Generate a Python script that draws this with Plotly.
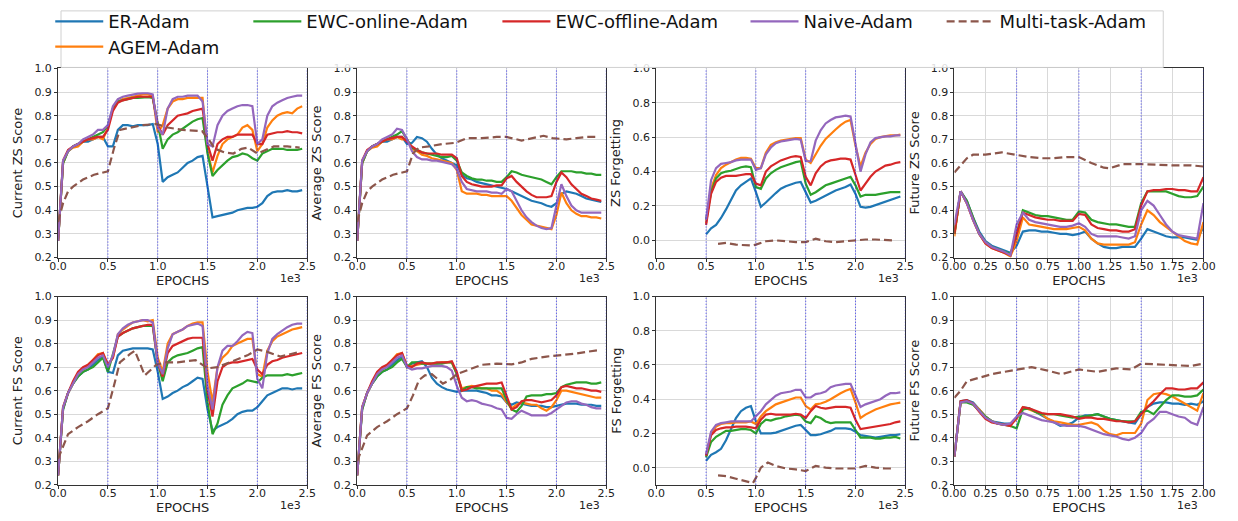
import plotly.graph_objects as go

# ---------------- data ----------------
METHODS = ["ER-Adam", "AGEM-Adam", "EWC-online-Adam", "EWC-offline-Adam", "Naive-Adam", "Multi-task-Adam"]
COLORS = ["#1f77b4", "#ff7f0e", "#2ca02c", "#d62728", "#9467bd", "#8c564b"]

EPOCHS_MAIN = [0, 50, 100, 150, 200, 250, 300, 350, 400, 450,
               500, 550, 600, 650, 700, 750, 800, 850, 900, 950,
               1000, 1050, 1100, 1150, 1200, 1250, 1300, 1350, 1400, 1450,
               1500, 1550, 1600, 1650, 1700, 1750, 1800, 1850, 1900, 1950,
               2000, 2050, 2100, 2150, 2200, 2250, 2300, 2350, 2400, 2450]
EPOCHS_FORGET = [500, 550, 600, 650, 700, 750, 800, 850, 900, 950,
                 1000, 1050, 1100, 1150, 1200, 1250, 1300, 1350, 1400, 1450,
                 1500, 1550, 1600, 1650, 1700, 1750, 1800, 1850, 1900, 1950,
                 2000, 2050, 2100, 2150, 2200, 2250, 2300, 2350, 2400, 2450]
EPOCHS_FUTURE = [0, 50, 100, 150, 200, 250, 300, 350, 400, 450,
                 500, 550, 600, 650, 700, 750, 800, 850, 900, 950,
                 1000, 1050, 1100, 1150, 1200, 1250, 1300, 1350, 1400, 1450,
                 1500, 1550, 1600, 1650, 1700, 1750, 1800, 1850, 1900, 1950,
                 2000]

# Current ZS Score
CUR_ZS_ER = [0.27, 0.60, 0.65, 0.67, 0.68, 0.69, 0.69, 0.70, 0.71, 0.71,
             0.67, 0.67, 0.74, 0.76, 0.76, 0.755, 0.76, 0.76, 0.76, 0.765,
             0.68, 0.52, 0.54, 0.55, 0.56, 0.58, 0.60, 0.61, 0.625, 0.63,
             0.50, 0.37, 0.375, 0.38, 0.385, 0.39, 0.40, 0.405, 0.41, 0.41,
             0.415, 0.43, 0.46, 0.475, 0.48, 0.48, 0.485, 0.48, 0.48, 0.485]
CUR_ZS_AGEM = [0.27, 0.60, 0.65, 0.665, 0.67, 0.69, 0.70, 0.70, 0.71, 0.70,
               0.75, 0.83, 0.86, 0.87, 0.875, 0.88, 0.885, 0.89, 0.89, 0.885,
               0.73, 0.76, 0.83, 0.86, 0.87, 0.87, 0.875, 0.875, 0.875, 0.875,
               0.65, 0.56, 0.63, 0.68, 0.70, 0.71, 0.72, 0.75, 0.76, 0.74,
               0.65, 0.68, 0.75, 0.78, 0.80, 0.81, 0.815, 0.81, 0.83, 0.84]
CUR_ZS_EWCON = [0.27, 0.60, 0.65, 0.67, 0.68, 0.69, 0.70, 0.71, 0.72, 0.73,
                0.76, 0.83, 0.86, 0.865, 0.87, 0.875, 0.875, 0.877, 0.878, 0.875,
                0.76, 0.66, 0.70, 0.72, 0.73, 0.745, 0.76, 0.775, 0.785, 0.79,
                0.64, 0.545, 0.57, 0.59, 0.61, 0.625, 0.63, 0.64, 0.635, 0.62,
                0.61, 0.64, 0.65, 0.66, 0.66, 0.66, 0.655, 0.655, 0.655, 0.66]
CUR_ZS_EWCOFF = [0.27, 0.61, 0.655, 0.67, 0.68, 0.69, 0.70, 0.705, 0.71, 0.71,
                 0.74, 0.82, 0.855, 0.865, 0.87, 0.875, 0.88, 0.88, 0.88, 0.88,
                 0.76, 0.72, 0.76, 0.78, 0.80, 0.805, 0.81, 0.82, 0.825, 0.83,
                 0.68, 0.61, 0.68, 0.70, 0.71, 0.71, 0.72, 0.72, 0.72, 0.72,
                 0.68, 0.68, 0.72, 0.725, 0.73, 0.73, 0.735, 0.73, 0.73, 0.725]
CUR_ZS_NAIVE = [0.27, 0.61, 0.65, 0.67, 0.68, 0.70, 0.71, 0.72, 0.74, 0.74,
                0.76, 0.84, 0.87, 0.88, 0.885, 0.89, 0.893, 0.895, 0.895, 0.89,
                0.75, 0.72, 0.83, 0.87, 0.88, 0.88, 0.885, 0.885, 0.885, 0.86,
                0.68, 0.67, 0.76, 0.80, 0.82, 0.83, 0.84, 0.845, 0.845, 0.84,
                0.68, 0.70, 0.80, 0.84, 0.855, 0.865, 0.875, 0.88, 0.885, 0.885]
CUR_ZS_MT_X = [0, 50, 100, 150, 250, 360, 500, 560, 620, 720, 850, 985, 1100, 1250,
               1445, 1510, 1575, 1670, 1760, 1840, 1910, 2000, 2060, 2165, 2300, 2425]
CUR_ZS_MT = [0.35, 0.43, 0.48, 0.50, 0.53, 0.55, 0.565, 0.66, 0.74, 0.75, 0.76, 0.765, 0.75, 0.74,
             0.735, 0.70, 0.66, 0.645, 0.64, 0.66, 0.665, 0.64, 0.65, 0.67, 0.67, 0.665]

# Average ZS Score
AVG_ZS_ER = [0.27, 0.60, 0.65, 0.67, 0.68, 0.69, 0.69, 0.70, 0.71, 0.71,
             0.68, 0.685, 0.71, 0.705, 0.69, 0.66, 0.635, 0.62, 0.61, 0.60,
             0.59, 0.55, 0.535, 0.53, 0.52, 0.515, 0.51, 0.505, 0.50, 0.495,
             0.49, 0.48, 0.47, 0.46, 0.45, 0.44, 0.435, 0.43, 0.42, 0.415,
             0.43, 0.47, 0.48, 0.475, 0.47, 0.46, 0.45, 0.445, 0.44, 0.435]
AVG_ZS_AGEM = [0.27, 0.60, 0.65, 0.665, 0.67, 0.69, 0.70, 0.70, 0.71, 0.70,
               0.70, 0.66, 0.65, 0.635, 0.63, 0.62, 0.615, 0.61, 0.605, 0.60,
               0.57, 0.48, 0.47, 0.47, 0.47, 0.465, 0.465, 0.46, 0.46, 0.46,
               0.46, 0.44, 0.41, 0.38, 0.36, 0.34, 0.335, 0.33, 0.325, 0.32,
               0.38, 0.475, 0.43, 0.40, 0.385, 0.375, 0.375, 0.37, 0.37, 0.365]
AVG_ZS_EWCON = [0.27, 0.60, 0.65, 0.67, 0.68, 0.69, 0.70, 0.71, 0.72, 0.735,
                0.70, 0.665, 0.655, 0.645, 0.64, 0.635, 0.63, 0.625, 0.625, 0.63,
                0.61, 0.56, 0.545, 0.535, 0.53, 0.53, 0.525, 0.525, 0.52, 0.52,
                0.54, 0.565, 0.56, 0.55, 0.545, 0.54, 0.535, 0.53, 0.52, 0.51,
                0.54, 0.565, 0.565, 0.565, 0.56, 0.56, 0.555, 0.555, 0.55, 0.55]
AVG_ZS_EWCOFF = [0.27, 0.61, 0.655, 0.67, 0.68, 0.69, 0.70, 0.705, 0.71, 0.71,
                 0.69, 0.67, 0.655, 0.645, 0.64, 0.64, 0.64, 0.635, 0.635, 0.635,
                 0.62, 0.545, 0.52, 0.51, 0.505, 0.50, 0.50, 0.50, 0.505, 0.505,
                 0.535, 0.545, 0.52, 0.50, 0.48, 0.465, 0.455, 0.455, 0.455, 0.46,
                 0.52, 0.56, 0.54, 0.51, 0.49, 0.47, 0.46, 0.45, 0.445, 0.44]
AVG_ZS_NAIVE = [0.27, 0.61, 0.65, 0.67, 0.68, 0.70, 0.71, 0.72, 0.745, 0.74,
                0.70, 0.65, 0.625, 0.615, 0.615, 0.61, 0.61, 0.605, 0.60, 0.595,
                0.575, 0.52, 0.49, 0.485, 0.48, 0.48, 0.48, 0.475, 0.475, 0.47,
                0.49, 0.48, 0.44, 0.40, 0.37, 0.35, 0.335, 0.325, 0.32, 0.325,
                0.42, 0.51, 0.46, 0.42, 0.40, 0.39, 0.39, 0.39, 0.39, 0.39]
AVG_ZS_MT_X = [0, 50, 100, 150, 250, 360, 500, 560, 620, 720, 850, 985, 1100, 1250,
               1400, 1500, 1650, 1750, 1870, 1960, 2100, 2200, 2300, 2425]
AVG_ZS_MT = [0.35, 0.43, 0.48, 0.50, 0.53, 0.55, 0.565, 0.64, 0.665, 0.67, 0.68, 0.685, 0.705, 0.705,
             0.71, 0.71, 0.695, 0.705, 0.715, 0.705, 0.70, 0.705, 0.71, 0.71]

# ZS Forgetting
FGT_ZS_ER = [0.035, 0.07, 0.09, 0.13, 0.18, 0.24, 0.29, 0.32, 0.34, 0.36,
             0.28, 0.195, 0.22, 0.25, 0.275, 0.30, 0.315, 0.325, 0.335, 0.34,
             0.28, 0.22, 0.23, 0.245, 0.26, 0.275, 0.29, 0.30, 0.31, 0.325,
             0.27, 0.195, 0.19, 0.195, 0.205, 0.215, 0.225, 0.235, 0.245, 0.255]
FGT_ZS_AGEM = [0.10, 0.30, 0.38, 0.42, 0.44, 0.455, 0.47, 0.48, 0.48, 0.475,
               0.42, 0.42, 0.51, 0.555, 0.57, 0.58, 0.585, 0.59, 0.595, 0.595,
               0.47, 0.45, 0.50, 0.55, 0.59, 0.62, 0.645, 0.67, 0.69, 0.70,
               0.55, 0.43, 0.51, 0.56, 0.59, 0.60, 0.605, 0.61, 0.61, 0.615]
FGT_ZS_EWCON = [0.12, 0.28, 0.36, 0.39, 0.40, 0.405, 0.415, 0.425, 0.43, 0.425,
                0.31, 0.30, 0.36, 0.39, 0.41, 0.425, 0.435, 0.445, 0.455, 0.46,
                0.33, 0.265, 0.28, 0.30, 0.32, 0.33, 0.34, 0.35, 0.36, 0.37,
                0.32, 0.255, 0.265, 0.265, 0.265, 0.27, 0.275, 0.28, 0.28, 0.28]
FGT_ZS_EWCOFF = [0.09, 0.27, 0.34, 0.365, 0.375, 0.375, 0.375, 0.38, 0.385, 0.385,
                 0.33, 0.32, 0.40, 0.43, 0.45, 0.465, 0.475, 0.485, 0.49, 0.485,
                 0.37, 0.32, 0.39, 0.43, 0.455, 0.465, 0.47, 0.475, 0.475, 0.47,
                 0.38, 0.29, 0.33, 0.37, 0.40, 0.42, 0.435, 0.44, 0.45, 0.455]
FGT_ZS_NAIVE = [0.12, 0.35, 0.42, 0.445, 0.45, 0.455, 0.465, 0.47, 0.47, 0.47,
                0.41, 0.42, 0.50, 0.54, 0.565, 0.575, 0.58, 0.585, 0.59, 0.585,
                0.46, 0.46, 0.58, 0.64, 0.68, 0.70, 0.715, 0.72, 0.725, 0.72,
                0.56, 0.40, 0.50, 0.57, 0.595, 0.60, 0.605, 0.605, 0.61, 0.61]
FGT_ZS_MT_X = [620, 700, 800, 900, 960, 1000, 1100, 1200, 1300, 1400, 1500, 1600, 1700,
               1800, 1900, 2000, 2100, 2200, 2370]
FGT_ZS_MT = [-0.02, -0.015, -0.025, -0.03, -0.03, -0.025, -0.005, 0.0, -0.005, -0.01, -0.01, 0.01, -0.005,
             -0.01, -0.005, 0.0, 0.005, 0.005, 0.0]

# Future ZS Score
FUT_ZS_ER = [0.30, 0.48, 0.44, 0.37, 0.31, 0.27, 0.25, 0.24, 0.23, 0.22,
             0.25, 0.31, 0.315, 0.315, 0.31, 0.31, 0.305, 0.30, 0.30, 0.295,
             0.30, 0.31, 0.28, 0.26, 0.245, 0.24, 0.24, 0.245, 0.245, 0.245,
             0.28, 0.32, 0.31, 0.30, 0.29, 0.285, 0.285, 0.285, 0.28, 0.275,
             0.33]
FUT_ZS_AGEM = [0.29, 0.48, 0.43, 0.36, 0.30, 0.26, 0.24, 0.23, 0.22, 0.205,
               0.27, 0.37, 0.34, 0.335, 0.33, 0.325, 0.32, 0.32, 0.32, 0.325,
               0.33, 0.315, 0.28, 0.26, 0.255, 0.255, 0.255, 0.255, 0.255, 0.265,
               0.34, 0.40, 0.38, 0.35, 0.33, 0.31, 0.29, 0.27, 0.26, 0.255,
               0.35]
FUT_ZS_EWCON = [0.30, 0.48, 0.44, 0.37, 0.30, 0.265, 0.245, 0.235, 0.225, 0.215,
                0.30, 0.40, 0.39, 0.38, 0.375, 0.375, 0.37, 0.365, 0.36, 0.36,
                0.395, 0.39, 0.36, 0.35, 0.345, 0.34, 0.34, 0.335, 0.33, 0.33,
                0.43, 0.48, 0.48, 0.48, 0.48, 0.47, 0.46, 0.455, 0.455, 0.46,
                0.50]
FUT_ZS_EWCOFF = [0.30, 0.48, 0.43, 0.36, 0.30, 0.26, 0.24, 0.23, 0.22, 0.21,
                 0.30, 0.39, 0.38, 0.37, 0.365, 0.36, 0.36, 0.355, 0.355, 0.355,
                 0.385, 0.38, 0.34, 0.325, 0.32, 0.315, 0.315, 0.31, 0.31, 0.32,
                 0.42, 0.48, 0.485, 0.485, 0.49, 0.49, 0.485, 0.485, 0.48, 0.48,
                 0.54]
FUT_ZS_NAIVE = [0.34, 0.48, 0.43, 0.36, 0.30, 0.265, 0.245, 0.235, 0.225, 0.21,
                0.34, 0.39, 0.36, 0.35, 0.345, 0.34, 0.335, 0.33, 0.33, 0.335,
                0.345, 0.33, 0.30, 0.29, 0.29, 0.29, 0.29, 0.285, 0.28, 0.29,
                0.40, 0.44, 0.42, 0.38, 0.34, 0.31, 0.295, 0.29, 0.285, 0.28,
                0.43]
FUT_ZS_MT_X = [0, 50, 100, 150, 250, 380, 500, 600, 700, 800, 900, 1000, 1100, 1200,
               1250, 1350, 1500, 1600, 1750, 1900, 2000]
FUT_ZS_MT = [0.56, 0.59, 0.62, 0.635, 0.635, 0.645, 0.635, 0.625, 0.62, 0.62, 0.625, 0.625, 0.60, 0.58,
             0.578, 0.595, 0.595, 0.592, 0.59, 0.59, 0.585]

# Current FS Score
CUR_FS_ER = [0.24, 0.52, 0.59, 0.63, 0.66, 0.68, 0.69, 0.71, 0.73, 0.745,
             0.68, 0.675, 0.75, 0.77, 0.775, 0.78, 0.78, 0.78, 0.78, 0.775,
             0.68, 0.565, 0.575, 0.59, 0.60, 0.615, 0.625, 0.64, 0.655, 0.65,
             0.52, 0.43, 0.445, 0.455, 0.465, 0.48, 0.50, 0.51, 0.515, 0.515,
             0.53, 0.555, 0.58, 0.59, 0.60, 0.61, 0.61, 0.605, 0.61, 0.61]
CUR_FS_AGEM = [0.24, 0.53, 0.59, 0.63, 0.67, 0.69, 0.71, 0.73, 0.755, 0.76,
               0.71, 0.74, 0.84, 0.86, 0.875, 0.89, 0.895, 0.90, 0.895, 0.90,
               0.74, 0.68, 0.80, 0.84, 0.85, 0.86, 0.875, 0.885, 0.89, 0.89,
               0.68, 0.55, 0.70, 0.74, 0.76, 0.79, 0.80, 0.81, 0.82, 0.82,
               0.67, 0.66, 0.77, 0.81, 0.83, 0.84, 0.85, 0.86, 0.865, 0.87]
CUR_FS_EWCON = [0.24, 0.52, 0.59, 0.63, 0.66, 0.68, 0.69, 0.70, 0.72, 0.74,
                0.68, 0.75, 0.83, 0.845, 0.855, 0.865, 0.87, 0.875, 0.875, 0.875,
                0.72, 0.64, 0.72, 0.74, 0.75, 0.755, 0.76, 0.77, 0.78, 0.785,
                0.55, 0.415, 0.46, 0.54, 0.58, 0.61, 0.62, 0.63, 0.645, 0.64,
                0.635, 0.655, 0.665, 0.665, 0.665, 0.665, 0.67, 0.665, 0.67, 0.675]
CUR_FS_EWCOFF = [0.24, 0.53, 0.59, 0.64, 0.68, 0.70, 0.71, 0.73, 0.75, 0.76,
                 0.71, 0.74, 0.83, 0.845, 0.855, 0.865, 0.87, 0.875, 0.88, 0.88,
                 0.72, 0.66, 0.76, 0.79, 0.80, 0.81, 0.82, 0.825, 0.825, 0.825,
                 0.60, 0.49, 0.64, 0.70, 0.715, 0.72, 0.72, 0.725, 0.73, 0.735,
                 0.69, 0.67, 0.71, 0.725, 0.73, 0.74, 0.745, 0.75, 0.755, 0.76]
CUR_FS_NAIVE = [0.24, 0.53, 0.59, 0.63, 0.67, 0.69, 0.70, 0.72, 0.74, 0.75,
                0.70, 0.75, 0.84, 0.865, 0.88, 0.89, 0.895, 0.90, 0.90, 0.89,
                0.72, 0.67, 0.78, 0.84, 0.85, 0.86, 0.875, 0.88, 0.885, 0.875,
                0.62, 0.52, 0.70, 0.77, 0.79, 0.79, 0.81, 0.835, 0.85, 0.845,
                0.65, 0.61, 0.76, 0.82, 0.84, 0.855, 0.87, 0.88, 0.885, 0.885]
CUR_FS_MT_X = [0, 100, 200, 300, 400, 500, 560, 620, 720, 770, 870, 985, 1080, 1200,
               1380, 1500, 1600, 1770, 1900, 2000, 2100, 2230, 2430]
CUR_FS_MT = [0.31, 0.415, 0.445, 0.47, 0.50, 0.525, 0.62, 0.72, 0.755, 0.77, 0.665, 0.71, 0.72, 0.72,
             0.73, 0.695, 0.70, 0.73, 0.75, 0.775, 0.765, 0.745, 0.765]

# Average FS Score
AVG_FS_ER = [0.24, 0.52, 0.59, 0.63, 0.66, 0.68, 0.69, 0.71, 0.73, 0.745,
             0.70, 0.715, 0.72, 0.725, 0.70, 0.655, 0.63, 0.615, 0.605, 0.60,
             0.595, 0.60, 0.60, 0.60, 0.60, 0.595, 0.59, 0.58, 0.58, 0.575,
             0.55, 0.54, 0.55, 0.545, 0.54, 0.535, 0.535, 0.535, 0.53, 0.53,
             0.535, 0.54, 0.545, 0.545, 0.545, 0.54, 0.54, 0.54, 0.535, 0.535]
AVG_FS_AGEM = [0.24, 0.53, 0.59, 0.63, 0.67, 0.69, 0.71, 0.73, 0.755, 0.76,
               0.70, 0.705, 0.71, 0.715, 0.715, 0.715, 0.715, 0.72, 0.72, 0.72,
               0.67, 0.61, 0.615, 0.62, 0.615, 0.61, 0.61, 0.60, 0.60, 0.585,
               0.55, 0.525, 0.54, 0.55, 0.545, 0.54, 0.54, 0.525, 0.515, 0.53,
               0.56, 0.60, 0.60, 0.595, 0.59, 0.585, 0.58, 0.575, 0.57, 0.57]
AVG_FS_EWCON = [0.24, 0.52, 0.59, 0.63, 0.66, 0.68, 0.69, 0.70, 0.72, 0.735,
                0.70, 0.72, 0.72, 0.715, 0.715, 0.715, 0.715, 0.715, 0.72, 0.72,
                0.67, 0.60, 0.615, 0.615, 0.61, 0.61, 0.61, 0.61, 0.61, 0.61,
                0.56, 0.52, 0.51, 0.535, 0.575, 0.58, 0.58, 0.58, 0.585, 0.585,
                0.59, 0.615, 0.625, 0.63, 0.635, 0.635, 0.635, 0.63, 0.63, 0.635]
AVG_FS_EWCOFF = [0.24, 0.53, 0.59, 0.64, 0.68, 0.70, 0.71, 0.73, 0.75, 0.76,
                 0.705, 0.70, 0.715, 0.72, 0.715, 0.715, 0.72, 0.72, 0.72, 0.725,
                 0.68, 0.60, 0.605, 0.615, 0.62, 0.625, 0.63, 0.63, 0.63, 0.635,
                 0.58, 0.52, 0.53, 0.555, 0.56, 0.56, 0.555, 0.55, 0.555, 0.56,
                 0.58, 0.615, 0.62, 0.615, 0.61, 0.61, 0.605, 0.60, 0.60, 0.595]
AVG_FS_NAIVE = [0.24, 0.53, 0.59, 0.63, 0.67, 0.69, 0.70, 0.72, 0.74, 0.75,
                0.70, 0.69, 0.695, 0.695, 0.70, 0.705, 0.705, 0.705, 0.70, 0.685,
                0.62, 0.57, 0.555, 0.56, 0.555, 0.545, 0.54, 0.535, 0.525, 0.52,
                0.485, 0.48, 0.50, 0.515, 0.505, 0.495, 0.495, 0.495, 0.495, 0.505,
                0.52, 0.535, 0.55, 0.555, 0.555, 0.545, 0.54, 0.53, 0.525, 0.525]
AVG_FS_MT_X = [0, 100, 200, 300, 400, 500, 560, 620, 680, 750, 860, 930, 1000, 1100,
               1250, 1400, 1550, 1650, 1750, 1900, 2050, 2200, 2300, 2425]
AVG_FS_MT = [0.30, 0.41, 0.445, 0.47, 0.50, 0.525, 0.58, 0.645, 0.665, 0.67, 0.63, 0.645, 0.67, 0.685,
             0.71, 0.715, 0.712, 0.72, 0.735, 0.745, 0.75, 0.758, 0.765, 0.772]

# FS Forgetting
FGT_FS_ER = [0.04, 0.075, 0.09, 0.11, 0.16, 0.23, 0.29, 0.33, 0.35, 0.36,
             0.27, 0.20, 0.20, 0.20, 0.205, 0.215, 0.225, 0.235, 0.245, 0.25,
             0.22, 0.19, 0.19, 0.195, 0.205, 0.215, 0.23, 0.23, 0.23, 0.225,
             0.21, 0.19, 0.185, 0.18, 0.175, 0.18, 0.185, 0.19, 0.19, 0.195]
FGT_FS_AGEM = [0.07, 0.20, 0.24, 0.255, 0.26, 0.26, 0.265, 0.265, 0.265, 0.27,
               0.255, 0.30, 0.33, 0.35, 0.37, 0.38, 0.39, 0.40, 0.41, 0.41,
               0.36, 0.34, 0.37, 0.375, 0.385, 0.40, 0.42, 0.435, 0.45, 0.46,
               0.38, 0.29, 0.31, 0.325, 0.34, 0.35, 0.36, 0.37, 0.375, 0.38]
FGT_FS_EWCON = [0.06, 0.15, 0.18, 0.20, 0.215, 0.215, 0.22, 0.225, 0.225, 0.22,
                0.20, 0.255, 0.28, 0.275, 0.285, 0.29, 0.30, 0.305, 0.31, 0.305,
                0.27, 0.26, 0.30, 0.29, 0.27, 0.26, 0.265, 0.265, 0.265, 0.265,
                0.22, 0.175, 0.175, 0.175, 0.17, 0.17, 0.175, 0.175, 0.18, 0.17]
FGT_FS_EWCOFF = [0.07, 0.19, 0.22, 0.23, 0.235, 0.235, 0.24, 0.24, 0.24, 0.235,
                 0.23, 0.28, 0.31, 0.315, 0.31, 0.31, 0.31, 0.31, 0.315, 0.31,
                 0.29, 0.33, 0.36, 0.35, 0.345, 0.35, 0.355, 0.355, 0.355, 0.35,
                 0.28, 0.225, 0.23, 0.235, 0.24, 0.245, 0.25, 0.255, 0.265, 0.27]
FGT_FS_NAIVE = [0.08, 0.21, 0.25, 0.26, 0.265, 0.27, 0.27, 0.27, 0.27, 0.27,
                0.30, 0.33, 0.37, 0.395, 0.42, 0.435, 0.44, 0.445, 0.455, 0.455,
                0.41, 0.41, 0.43, 0.435, 0.445, 0.47, 0.48, 0.485, 0.49, 0.49,
                0.42, 0.355, 0.37, 0.38, 0.39, 0.40, 0.42, 0.435, 0.435, 0.44]
FGT_FS_MT_X = [620, 700, 800, 900, 970, 1000, 1050, 1120, 1200, 1300, 1400, 1500, 1600, 1700,
               1800, 1900, 2000, 2100, 2200, 2300, 2370]
FGT_FS_MT = [-0.045, -0.05, -0.065, -0.08, -0.09, -0.06, 0.0, 0.03, 0.01, -0.005, -0.01, -0.02, 0.01, 0.0,
             -0.005, -0.005, -0.005, 0.01, 0.0, -0.005, -0.005]

# Future FS Score
FUT_FS_ER = [0.32, 0.555, 0.56, 0.55, 0.52, 0.49, 0.47, 0.465, 0.46, 0.46,
             0.48, 0.53, 0.525, 0.51, 0.495, 0.48, 0.465, 0.45, 0.455, 0.465,
             0.485, 0.495, 0.495, 0.50, 0.49, 0.48, 0.475, 0.47, 0.465, 0.46,
             0.50, 0.53, 0.545, 0.55, 0.55, 0.545, 0.545, 0.54, 0.545, 0.54,
             0.555]
FUT_FS_AGEM = [0.32, 0.55, 0.555, 0.545, 0.52, 0.49, 0.47, 0.46, 0.455, 0.455,
               0.48, 0.53, 0.52, 0.51, 0.50, 0.48, 0.47, 0.465, 0.46, 0.455,
               0.455, 0.46, 0.465, 0.455, 0.43, 0.415, 0.41, 0.42, 0.42, 0.42,
               0.46, 0.56, 0.585, 0.59, 0.585, 0.575, 0.56, 0.545, 0.53, 0.515,
               0.59]
FUT_FS_EWCON = [0.32, 0.55, 0.55, 0.54, 0.515, 0.49, 0.47, 0.46, 0.455, 0.45,
                0.44, 0.52, 0.525, 0.51, 0.50, 0.50, 0.50, 0.495, 0.49, 0.485,
                0.49, 0.49, 0.495, 0.50, 0.49, 0.48, 0.475, 0.47, 0.47, 0.47,
                0.51, 0.515, 0.50, 0.53, 0.56, 0.58, 0.58, 0.575, 0.575, 0.58,
                0.605]
FUT_FS_EWCOFF = [0.32, 0.555, 0.56, 0.545, 0.51, 0.48, 0.465, 0.46, 0.455, 0.45,
                 0.485, 0.53, 0.525, 0.515, 0.505, 0.50, 0.50, 0.50, 0.495, 0.49,
                 0.48, 0.485, 0.485, 0.48, 0.48, 0.475, 0.47, 0.47, 0.465, 0.47,
                 0.50, 0.53, 0.555, 0.585, 0.61, 0.61, 0.605, 0.605, 0.61, 0.61,
                 0.635]
FUT_FS_NAIVE = [0.32, 0.55, 0.555, 0.545, 0.515, 0.485, 0.47, 0.46, 0.455, 0.46,
                0.49, 0.505, 0.495, 0.485, 0.475, 0.47, 0.465, 0.455, 0.45, 0.45,
                0.45, 0.445, 0.435, 0.425, 0.415, 0.41, 0.405, 0.395, 0.39, 0.40,
                0.42, 0.46, 0.48, 0.51, 0.51, 0.50, 0.49, 0.485, 0.465, 0.455,
                0.53]
FUT_FS_MT_X = [0, 50, 100, 200, 300, 400, 500, 620, 750, 860, 1000, 1150, 1300, 1420,
               1500, 1600, 1750, 1900, 2000]
FUT_FS_MT = [0.57, 0.60, 0.64, 0.655, 0.67, 0.68, 0.69, 0.70, 0.685, 0.67, 0.69, 0.68, 0.695, 0.69,
             0.715, 0.712, 0.71, 0.705, 0.715]

Y_TITLES = ["Current ZS Score", "Average ZS Score", "ZS Forgetting", "Future ZS Score",
            "Current FS Score", "Average FS Score", "FS Forgetting", "Future FS Score"]
TASK_BOUNDARIES_LONG = [500, 1000, 1500, 2000, 2500]
TASK_BOUNDARIES_SHORT = [500, 1000, 1500, 2000]
X_TICKS_LONG = [0, 500, 1000, 1500, 2000, 2500]
X_TICKTEXT_LONG = ["0.0", "0.5", "1.0", "1.5", "2.0", "2.5"]
X_TICKS_SHORT = [0, 250, 500, 750, 1000, 1250, 1500, 1750, 2000]
X_TICKTEXT_SHORT = ["0.00", "0.25", "0.50", "0.75", "1.00", "1.25", "1.50", "1.75", "2.00"]
Y_TICKS_SCORE = [0.2, 0.3, 0.4, 0.5, 0.6, 0.7, 0.8, 0.9, 1.0]
Y_TICKS_FGT = [0.0, 0.2, 0.4, 0.6, 0.8, 1.0]

PANELS = [
    (EPOCHS_MAIN, [CUR_ZS_ER, CUR_ZS_AGEM, CUR_ZS_EWCON, CUR_ZS_EWCOFF, CUR_ZS_NAIVE], CUR_ZS_MT_X, CUR_ZS_MT),
    (EPOCHS_MAIN, [AVG_ZS_ER, AVG_ZS_AGEM, AVG_ZS_EWCON, AVG_ZS_EWCOFF, AVG_ZS_NAIVE], AVG_ZS_MT_X, AVG_ZS_MT),
    (EPOCHS_FORGET, [FGT_ZS_ER, FGT_ZS_AGEM, FGT_ZS_EWCON, FGT_ZS_EWCOFF, FGT_ZS_NAIVE], FGT_ZS_MT_X, FGT_ZS_MT),
    (EPOCHS_FUTURE, [FUT_ZS_ER, FUT_ZS_AGEM, FUT_ZS_EWCON, FUT_ZS_EWCOFF, FUT_ZS_NAIVE], FUT_ZS_MT_X, FUT_ZS_MT),
    (EPOCHS_MAIN, [CUR_FS_ER, CUR_FS_AGEM, CUR_FS_EWCON, CUR_FS_EWCOFF, CUR_FS_NAIVE], CUR_FS_MT_X, CUR_FS_MT),
    (EPOCHS_MAIN, [AVG_FS_ER, AVG_FS_AGEM, AVG_FS_EWCON, AVG_FS_EWCOFF, AVG_FS_NAIVE], AVG_FS_MT_X, AVG_FS_MT),
    (EPOCHS_FORGET, [FGT_FS_ER, FGT_FS_AGEM, FGT_FS_EWCON, FGT_FS_EWCOFF, FGT_FS_NAIVE], FGT_FS_MT_X, FGT_FS_MT),
    (EPOCHS_FUTURE, [FUT_FS_ER, FUT_FS_AGEM, FUT_FS_EWCON, FUT_FS_EWCOFF, FUT_FS_NAIVE], FUT_FS_MT_X, FUT_FS_MT),
]

# ---------------- layout ----------------
W, H = 1238, 521
COL_PX = [(47, 301), (352, 606), (657, 911), (961, 1215)]
ROW_PX = [(64, 258), (298, 491)]
FONT = "DejaVu Sans"
LEGEND_NAMES = ["legend", "legend2", "legend3", "legend4", "legend5", "legend6"]
LEGEND_POS = [(39, 16), (39, 42), (241, 16), (495, 16), (748, 16), (948, 16)]

fig = go.Figure()
layout = dict(width=W, height=H, margin=dict(l=0, r=0, t=0, b=0),
              paper_bgcolor="white", plot_bgcolor="white",
              font=dict(family=FONT, color="#222222"), showlegend=True)
shapes = []
annotations = []

for i, (xs, series, mtx, mty) in enumerate(PANELS):
    idx = i + 1
    r, c = divmod(i, 4)
    xa = "x" if idx == 1 else f"x{idx}"
    ya = "y" if idx == 1 else f"y{idx}"
    is_future = (c == 3)
    is_fgt = (c == 2)
    for k, vals in enumerate(series):
        fig.add_trace(go.Scatter(
            x=xs, y=vals, mode="lines", name=METHODS[k], xaxis=xa, yaxis=ya,
            line=dict(color=COLORS[k], width=2.2),
            showlegend=(idx == 1), legend=LEGEND_NAMES[k]))
    fig.add_trace(go.Scatter(
        x=mtx, y=mty, mode="lines", name=METHODS[5], xaxis=xa, yaxis=ya,
        line=dict(color=COLORS[5], width=2.2, dash="8px,4px"),
        showlegend=(idx == 1), legend=LEGEND_NAMES[5]))

    x0, x1 = COL_PX[c]
    y0, y1 = ROW_PX[r]
    axis_common = dict(showline=True, mirror=True, linecolor="#333333", linewidth=1,
                       ticks="outside", ticklen=3, tickcolor="#333333", tickwidth=1,
                       showgrid=True, gridcolor="#d9d9d9", gridwidth=1, zeroline=False,
                       tickfont=dict(family=FONT, size=11, color="#222222"))
    layout["xaxis" + ("" if idx == 1 else str(idx))] = dict(
        axis_common, domain=[x0 / W, x1 / W], anchor=ya,
        range=[0, 2000] if is_future else [0, 2500],
        tickmode="array", ticklabelstandoff=-5,
        tickvals=X_TICKS_SHORT if is_future else X_TICKS_LONG,
        ticktext=X_TICKTEXT_SHORT if is_future else X_TICKTEXT_LONG,
        title=dict(text="EPOCHS", font=dict(family=FONT, size=13, color="#222222"), standoff=2))
    layout["yaxis" + ("" if idx == 1 else str(idx))] = dict(
        axis_common, domain=[1 - y1 / H, 1 - y0 / H], anchor=xa,
        range=[-0.1, 1.0] if is_fgt else [0.2, 1.0],
        tickmode="array",
        tickvals=Y_TICKS_FGT if is_fgt else Y_TICKS_SCORE,
        ticktext=[f"{v:.1f}" for v in (Y_TICKS_FGT if is_fgt else Y_TICKS_SCORE)],
        title=dict(text=Y_TITLES[i], font=dict(family=FONT, size=13, color="#222222"), standoff=8))
    for b in (TASK_BOUNDARIES_SHORT if is_future else TASK_BOUNDARIES_LONG):
        shapes.append(dict(type="line", xref=xa, yref=ya + " domain", x0=b, x1=b, y0=0, y1=1,
                           line=dict(color="rgba(0,0,255,0.75)", width=1, dash="1px,2px"), layer="above"))
    annotations.append(dict(text="1e3", xref="paper", yref="paper",
                            x=(x1 - 4) / W, y=1 - (y1 + 13) / H, xanchor="right", yanchor="top",
                            showarrow=False, font=dict(family=FONT, size=11, color="#222222")))

# legend frame
shapes.append(dict(type="rect", xref="paper", yref="paper",
                   x0=50 / W, x1=1174 / W, y0=1 - 63 / H, y1=1 - 5 / H,
                   line=dict(color="#d0d0d0", width=1), fillcolor="rgba(255,255,255,0.85)",
                   layer="above"))

for name, (px, py) in zip(LEGEND_NAMES, LEGEND_POS):
    layout[name] = dict(x=px / W, y=1 - py / H, xanchor="left", yanchor="middle",
                        bgcolor="rgba(0,0,0,0)", borderwidth=0, itemwidth=48,
                        font=dict(family=FONT, size=18, color="#111111"))

layout["shapes"] = shapes
layout["annotations"] = annotations
fig.update_layout(**layout)
fig.write_html("out.html")
